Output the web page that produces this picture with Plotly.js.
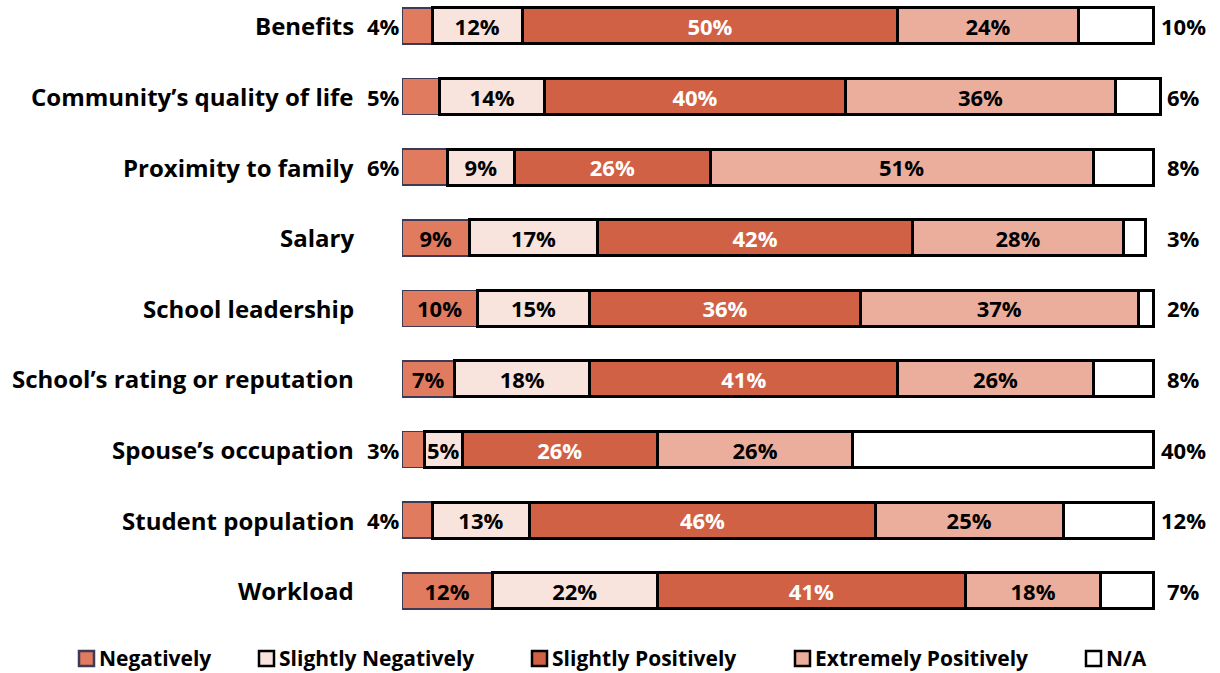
<!DOCTYPE html>
<html><head><meta charset="utf-8">
<script src="https://cdn.plot.ly/plotly-3.0.1.min.js"></script>
<style>body{margin:0;background:#fff}#c{width:1220px;height:673px}</style>
</head><body><div id="c"></div>
<script>
const categories = ["Benefits","Community’s quality of life","Proximity to family","Salary","School leadership","School’s rating or reputation","Spouse’s occupation","Student population","Workload"];
const negatively = [4,5,6,9,10,7,3,4,12];
const slightlyNegatively = [12,14,9,17,15,18,5,13,22];
const slightlyPositively = [50,40,26,42,36,41,26,46,41];
const extremelyPositively = [24,36,51,28,37,26,26,25,18];
const notApplicable = [10,6,8,3,2,8,40,12,7];
const seriesNames = ["Negatively","Slightly Negatively","Slightly Positively","Extremely Positively","N/A"];

const FONT = "'Open Sans', sans-serif";
const colors = ["#E07B5F","#F9E3DD","#D06144","#EBAE9D","#FFFFFF"];
const lineColors = ["#3B3B55","#000000","#000000","#000000","#000000"];
const lineWidths = [1.5,3,3,3,3];
const textColors = ["#000","#000","#fff","#000","#000"];
const allSeries = [negatively,slightlyNegatively,slightlyPositively,extremelyPositively,notApplicable];

const traces = allSeries.map((vals,k)=>({
  type:'bar', orientation:'h', name:seriesNames[k], y:categories, x:vals,
  marker:{color:colors[k], line:{color:lineColors[k], width:lineWidths[k]}},
  text: vals.map(v => (k===4 || (k===0 && v<7)) ? '' : v+'%'),
  textposition:'inside', insidetextanchor:'middle', constraintext:'none',
  textfont:{family:FONT, size:22, color:textColors[k], weight:700},
  hoverinfo:'skip', showlegend:false
}));

const XMAX = 101.3;
const L=402, W=1220, H=673, T=0, B=47;
const pw = Math.round(751*XMAX/100), R = W-L-pw;
const ph = H-T-B;
const px2x = p => (p-L)/pw;
const py2y = p => (H-B-p)/ph;

const annotations = [];
const shapes = [];
categories.forEach((c,i)=>{
  annotations.push({x:0, y:c, xref:'x', yref:'y', text:'<b>'+c+'</b>', showarrow:false, xanchor:'right', xshift:-46, font:{family:FONT,size:24,color:'#000'}});
  if (negatively[i] < 7) annotations.push({x:0, y:c, xref:'x', yref:'y', text:'<b>'+negatively[i]+'%</b>', showarrow:false, xanchor:'right', xshift:0, font:{family:FONT,size:22,color:'#000'}});
  annotations.push({x:100, y:c, xref:'x', yref:'y', text:'<b>'+notApplicable[i]+'%</b>', showarrow:false, xanchor:'center', xshift:30, font:{family:FONT,size:22,color:'#000'}});
});

// custom legend
const legendTextX = [100, 280, 553, 816, 1107];
const legendY = 658;
seriesNames.forEach((n,k)=>{
  const tx = legendTextX[k];
  shapes.push({type:'rect', xref:'paper', yref:'paper', x0:px2x(tx-21), x1:px2x(tx-6), y0:py2y(legendY+8), y1:py2y(legendY-7),
    fillcolor:colors[k], line:{color:lineColors[k], width:2.5}});
  annotations.push({xref:'paper', yref:'paper', x:px2x(tx-3), y:py2y(legendY), xanchor:'left', yanchor:'middle', showarrow:false,
    text:'<b>'+n+'</b>', font:{family:FONT,size:21,color:'#000'}});
});

const layout = {
  width:W, height:H, margin:{l:L, r:R, t:T, b:B},
  paper_bgcolor:'#fff', plot_bgcolor:'#fff',
  barmode:'stack', bargap:0.49,
  xaxis:{range:[0,XMAX], visible:false, fixedrange:true},
  yaxis:{type:'category', range:[8.499,-0.368], showticklabels:false, showgrid:false, zeroline:false, showline:false, ticks:''},
  showlegend:false,
  annotations: annotations, shapes: shapes,
  font:{family:FONT}
};
Plotly.newPlot('c', traces, layout, {displayModeBar:false, staticPlot:true});
</script></body></html>
